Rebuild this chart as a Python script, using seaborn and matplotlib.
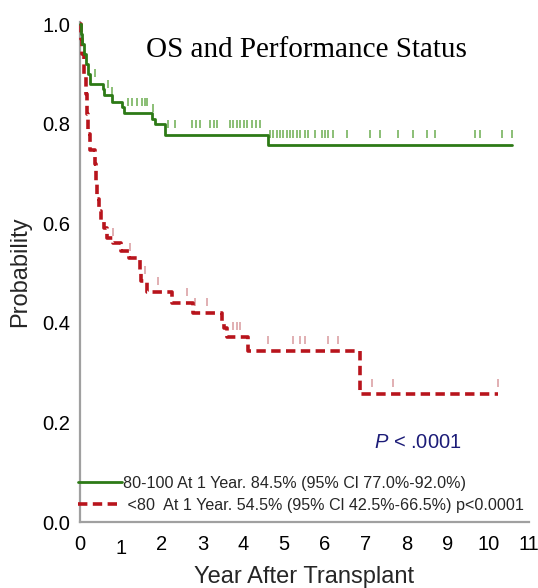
import numpy as np
import pandas as pd
import matplotlib
matplotlib.use("Agg")
import matplotlib.pyplot as plt
import matplotlib.transforms as mtransforms
from matplotlib.lines import Line2D
import seaborn as sns

# Kaplan-Meier step curves: time (years) at which each step begins, survival after the step
hi_time = [0.0, 0.025, 0.05, 0.10, 0.15, 0.20, 0.245, 0.56, 0.59, 0.78, 1.03, 1.08,
           1.76, 1.84, 2.08, 4.61, 10.59]
hi_surv = [1.0, 0.98, 0.96, 0.94, 0.92, 0.90, 0.88, 0.87, 0.858, 0.845, 0.834, 0.822,
           0.81, 0.80, 0.778, 0.758, 0.758]

lo_time = [0.0, 0.025, 0.05, 0.10, 0.15, 0.17, 0.20, 0.245, 0.37, 0.39, 0.42, 0.47,
           0.51, 0.59, 0.66, 0.81, 1.0, 1.2, 1.47, 1.5, 1.64, 2.25, 2.77, 3.48, 3.53,
           3.6, 4.12, 6.86, 10.25]
lo_surv = [1.0, 0.97, 0.94, 0.90, 0.86, 0.82, 0.78, 0.748, 0.72, 0.68, 0.65, 0.625,
           0.605, 0.59, 0.57, 0.56, 0.545, 0.53, 0.505, 0.484, 0.462, 0.44, 0.42, 0.40,
           0.39, 0.372, 0.344, 0.258, 0.258]

# Censored observations (years)
hi_cens = [0.37, 0.69, 0.78, 1.18, 1.27, 1.40, 1.52, 1.59, 1.64, 1.79, 2.16, 2.33, 2.75,
           2.84, 2.94, 3.19, 3.28, 3.36, 3.68, 3.75, 3.85, 3.92, 4.02, 4.09, 4.22, 4.31,
           4.41, 4.66, 4.73, 4.83, 4.90, 4.98, 5.07, 5.15, 5.22, 5.32, 5.39, 5.51, 5.59,
           5.76, 5.93, 6.00, 6.08, 6.20, 6.54, 7.11, 7.35, 7.79, 8.16, 8.50, 8.70, 9.68,
           9.80, 10.34, 10.59]
lo_cens = [0.81, 1.23, 1.59, 1.91, 2.62, 2.82, 3.11, 3.75, 3.85, 3.92, 4.61, 5.22, 5.39,
           5.51, 6.08, 6.32, 7.16, 7.67, 10.25]

hi_label = "80-100 At 1 Year. 84.5% (95% Cl 77.0%-92.0%)"
lo_label = " <80  At 1 Year. 54.5% (95% Cl 42.5%-66.5%) p<0.0001"
title = "OS and Performance Status"
p_text = "$P$ < .0001"
x_ticks = list(range(0, 12))
y_ticks = [0.0, 0.2, 0.4, 0.6, 0.8, 1.0]

GREEN = "#2d7a16"
GREEN_CENS = "#78b45f"
RED = "#b8141c"
RED_CENS = "#dba2a6"
AXIS_GRAY = "#a0a0a0"

sns.set_theme(style="white")
plt.rcParams["font.family"] = ["Liberation Sans", "DejaVu Sans"]
plt.rcParams["mathtext.fontset"] = "custom"
plt.rcParams["mathtext.it"] = "Liberation Sans:italic"
plt.rcParams["mathtext.rm"] = "Liberation Sans"

fig = plt.figure(figsize=(5.38, 5.88), dpi=100)
ax = fig.add_axes([80 / 538, 66 / 588, 449 / 538, 500 / 588])


def surv_at(times, surv, t):
    idx = np.searchsorted(np.asarray(times), np.asarray(t), side="right") - 1
    return np.asarray(surv)[idx]


hi_df = pd.DataFrame({"t": hi_time, "s": hi_surv})
lo_df = pd.DataFrame({"t": lo_time, "s": lo_surv})

sns.lineplot(data=hi_df, x="t", y="s", ax=ax, color=GREEN, lw=2.0,
             drawstyle="steps-post", estimator=None, sort=False, zorder=4, clip_on=False)
sns.lineplot(data=lo_df, x="t", y="s", ax=ax, color=RED, lw=2.6,
             drawstyle="steps-post", estimator=None, sort=False, zorder=3,
             linestyle=(0, (2.6, 1.5)), clip_on=False)

# censor ticks sit just above the curve
hi_c = pd.DataFrame({"t": hi_cens, "s": surv_at(hi_time, hi_surv, hi_cens) + 0.022})
lo_c = pd.DataFrame({"t": lo_cens, "s": surv_at(lo_time, lo_surv, lo_cens) + 0.022})
sns.scatterplot(data=hi_c, x="t", y="s", ax=ax, marker="|", s=36, linewidth=1.2,
                color=GREEN_CENS, zorder=2)
sns.scatterplot(data=lo_c, x="t", y="s", ax=ax, marker="|", s=36, linewidth=1.2,
                color=RED_CENS, zorder=2)

ax.set_xlim(0, 11)
ax.set_ylim(0, 1.005)
ax.set_xticks(x_ticks)
ax.set_xticklabels([str(v) for v in x_ticks])
ax.set_yticks(y_ticks)
ax.set_yticklabels([f"{v:.1f}" for v in y_ticks])

for side in ("top", "right"):
    ax.spines[side].set_visible(False)
for side in ("left", "bottom"):
    ax.spines[side].set_color(AXIS_GRAY)
    ax.spines[side].set_linewidth(1.6)

ax.tick_params(axis="both", which="major", length=3, width=1.0, color=AXIS_GRAY,
               labelsize=14.5, labelcolor="black", direction="out")
ax.tick_params(axis="x", pad=6)
ax.tick_params(axis="y", pad=4)

# the "1" label sits a little lower than its neighbours
lab1 = ax.get_xticklabels()[1]
lab1.set_transform(lab1.get_transform() +
                   mtransforms.ScaledTranslation(0, -3 / 72, fig.dpi_scale_trans))

ax.set_xlabel("Year After Transplant", fontsize=17, labelpad=6)
ax.set_ylabel("Probability", fontsize=17, labelpad=8)

ax.text(0.505, 0.93, title, transform=ax.transAxes, ha="center", va="baseline",
        fontsize=21, family=["Liberation Serif", "DejaVu Serif"], color="black")

ax.text(7.2, 0.148, p_text, ha="left", va="baseline", fontsize=14.5, color="#1c1c78")

handles = [Line2D([], [], color=GREEN, lw=2.0),
           Line2D([], [], color=RED, lw=2.6, linestyle=(0, (2.6, 1.5)))]
leg = ax.legend(handles, [hi_label, lo_label], loc="lower left",
                bbox_to_anchor=(-0.005, 0.018), frameon=False, fontsize=11.6,
                handlelength=2.75, handletextpad=0.05, borderpad=0, borderaxespad=0,
                labelspacing=0.45)

fig.savefig("out.png", dpi=100)
